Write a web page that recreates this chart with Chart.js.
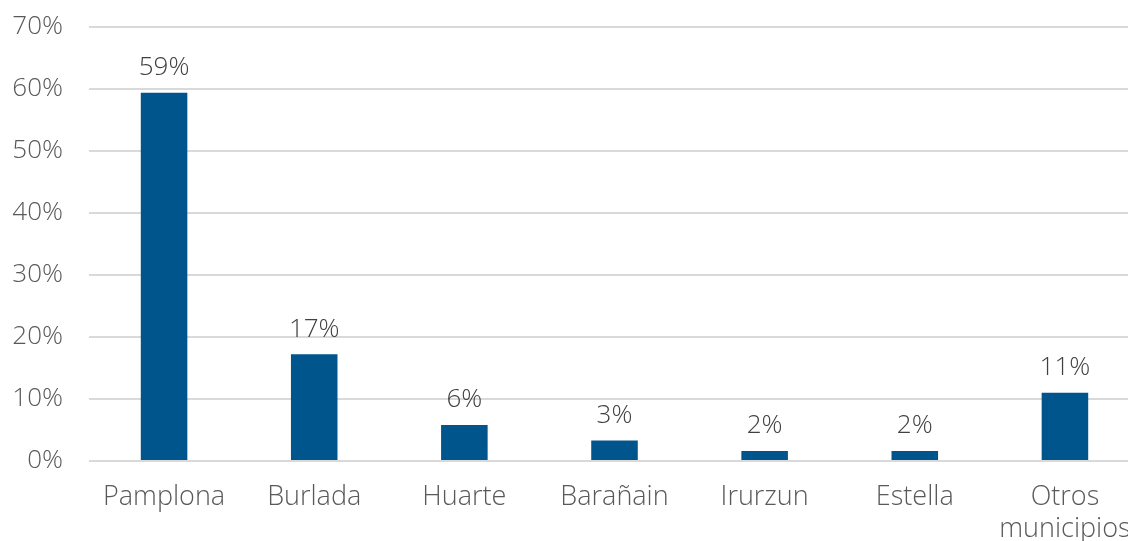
<!DOCTYPE html>
<html>
<head>
<meta charset="utf-8">
<script src="https://cdn.jsdelivr.net/npm/chart.js@4/dist/chart.umd.min.js"></script>
<style>
html,body{margin:0;padding:0;background:#fff;overflow:hidden;}
#wrap{width:1140px;height:541px;}
</style>
</head>
<body>
<div id="wrap"><canvas id="barChart" width="1140" height="541"></canvas></div>
<script>
var municipios=["Pamplona","Burlada","Huarte","Barañain","Irurzun","Estella",["Otros","municipios"]];
var porcentajes=[59.4,17.2,5.8,3.3,1.6,1.6,11.0];
var etiquetas=["59%","17%","6%","3%","2%","2%","11%"];

var fuente="'Open Sans'";

// labels over each bar
var valueLabels={
	id:"valueLabels",
	afterDatasetsDraw:function(chart){
		var ctx=chart.ctx;
		var meta=chart.getDatasetMeta(0);
		ctx.save();
		ctx.font="300 26px "+fuente;
		ctx.fillStyle="#404040";
		ctx.textAlign="center";
		ctx.textBaseline="middle";
		for(var k=0;k<meta.data.length;k++){
			var bar=meta.data[k];
			ctx.fillText(etiquetas[k],bar.x,bar.y-25);
		}
		ctx.restore();
	}
};

var ctx=document.getElementById("barChart").getContext("2d");
new Chart(ctx,{
	type:"bar",
	data:{
		labels:municipios,
		datasets:[{
			data:porcentajes,
			backgroundColor:"#00558c",
			barPercentage:0.31,
			categoryPercentage:1
		}]
	},
	options:{
		responsive:false,
		animation:false,
		layout:{padding:{top:27,right:0,left:0,bottom:0}},
		plugins:{legend:{display:false},tooltip:{enabled:false}},
		scales:{
			x:{
				grid:{display:false,drawTicks:false},
				border:{display:false},
				ticks:{color:"#595959",font:{family:fuente,size:27,weight:300},padding:20,maxRotation:0,autoSkip:false},
				afterFit:function(axis){axis.height=80;axis.paddingLeft=0;axis.paddingRight=0;}
			},
			y:{
				min:0,max:70,
				grid:{color:"#d9d9d9",lineWidth:2,drawTicks:false},
				border:{display:false},
				ticks:{stepSize:10,color:"#595959",font:{family:fuente,size:26,weight:300},padding:26,
					callback:function(v){return v+"%";}},
				afterFit:function(axis){axis.width=89;axis.paddingTop=0;axis.paddingBottom=0;}
			}
		}
	},
	plugins:[valueLabels]
});
</script>
</body>
</html>
